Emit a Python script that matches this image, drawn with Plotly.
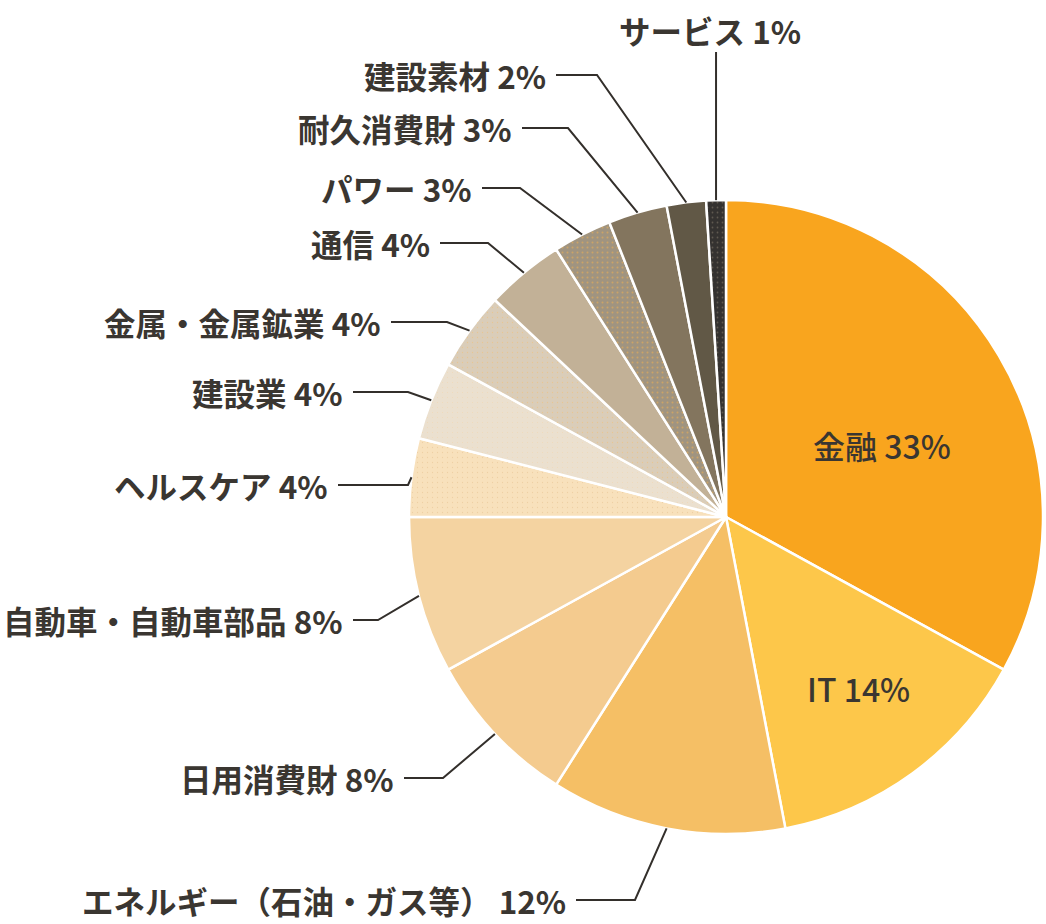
import math
import plotly.graph_objects as go

# ---- data ----
sectors = ["金融", "IT", "エネルギー（石油・ガス等）", "日用消費財", "自動車・自動車部品",
           "ヘルスケア", "建設業", "金属・金属鉱業", "通信", "パワー", "耐久消費財",
           "建設素材", "サービス"]
shares = [33, 14, 12, 8, 8, 4, 4, 4, 4, 3, 3, 2, 1]

# ---- styling ----
colors = ["#F9A51E", "#FDC74A", "#F5BF65", "#F4CB8F", "#F4D3A1", "#F8E1BC", "#EBE0CF",
          "#DACDB9", "#C2B197", "#A09480", "#83755E", "#615846", "#343230"]
pat_shape = ["", "", "", "", "", ".", ".", ".", "", ".", "", "", "."]
pat_fg = ["#F9A51E"] * 9 + ["#F7B24A", "#F9A51E", "#F9A51E", "#8A8070"]
pat_fg[5] = "#E3C08C"
pat_fg[6] = "#F3D2A0"
pat_fg[7] = "#F2C070"
pat_solid = [0.1] * 13
pat_solid[5] = 0.05
pat_solid[6] = 0.04
pat_solid[7] = 0.06
pat_solid[9] = 0.12
pat_solid[12] = 0.1

W, H = 1046, 924
CX, CY, R = 726, 517, 317
TEXT = "#3A3631"
FONT = "Noto Sans CJK JP"

# label layout (pixel positions): right edge x, centre y, elbow x
label_x = [None, None, 568, 396, 345, 330, 345, 383, 432, 474, 514, 548, 710]
label_y = [None, None, 900, 778, 620, 485, 392, 322, 243, 188, 128, 75, 30]
elbow_x = [None, None, 635, 443, 378, 408, 408, 447, 488, 520, 568, 597, 716]
inside_pos = {0: (882, 445), 1: (858, 688)}


def px(x):
    return x / W


def py(y):
    return 1 - y / H


fig = go.Figure()
fig.add_trace(go.Pie(
    labels=sectors,
    values=shares,
    sort=False,
    direction="clockwise",
    rotation=0,
    textinfo="none",
    hoverinfo="label+percent",
    marker=dict(colors=colors, line=dict(color="white", width=2.5),
                pattern=dict(shape=pat_shape, fgcolor=pat_fg, size=5, solidity=pat_solid,
                             fillmode="overlay")),
    domain=dict(x=[px(CX - R), px(CX + R)], y=[py(CY + R), py(CY - R)]),
    showlegend=False,
))

annotations = []
shapes = []
total = sum(shares)
cum = 0
for i, (name, v) in enumerate(zip(sectors, shares)):
    mid = 2 * math.pi * (cum + v / 2) / total
    cum += v
    ax = CX + R * math.sin(mid)
    ay = CY - R * math.cos(mid)
    txt = f"{name} {v}%"
    if i in inside_pos:
        x, y = inside_pos[i]
        annotations.append(dict(x=px(x), y=py(y), xref="paper", yref="paper", text=txt,
                                showarrow=False, xanchor="center", yanchor="middle",
                                font=dict(family=FONT, size=32, color=TEXT, weight=500)))
        continue
    lx, ly, ex = label_x[i], label_y[i], elbow_x[i]
    if name == "サービス":
        annotations.append(dict(x=px(lx), y=py(ly), xref="paper", yref="paper", text=txt,
                                showarrow=False, xanchor="center", yanchor="middle",
                                font=dict(family=FONT, size=31.5, color=TEXT, weight=700)))
        path = f"M {px(ax)},{py(ly + 22)} L {px(ax)},{py(ay)}"
    else:
        annotations.append(dict(x=px(lx), y=py(ly), xref="paper", yref="paper", text=txt,
                                showarrow=False, xanchor="right", yanchor="middle",
                                font=dict(family=FONT, size=31.5, color=TEXT, weight=700)))
        path = (f"M {px(lx + 8)},{py(ly)} L {px(ex)},{py(ly)} "
                f"L {px(ax)},{py(ay)}")
    shapes.append(dict(type="path", path=path, xref="paper", yref="paper",
                       line=dict(color="#332F2B", width=2)))

fig.update_layout(
    width=W, height=H,
    margin=dict(l=0, r=0, t=0, b=0),
    paper_bgcolor="white",
    plot_bgcolor="white",
    annotations=annotations,
    shapes=shapes,
)

fig.write_html("out.html", config={"displayModeBar": False},
               post_script="document.body.style.margin='0';document.body.style.overflow='hidden';")
